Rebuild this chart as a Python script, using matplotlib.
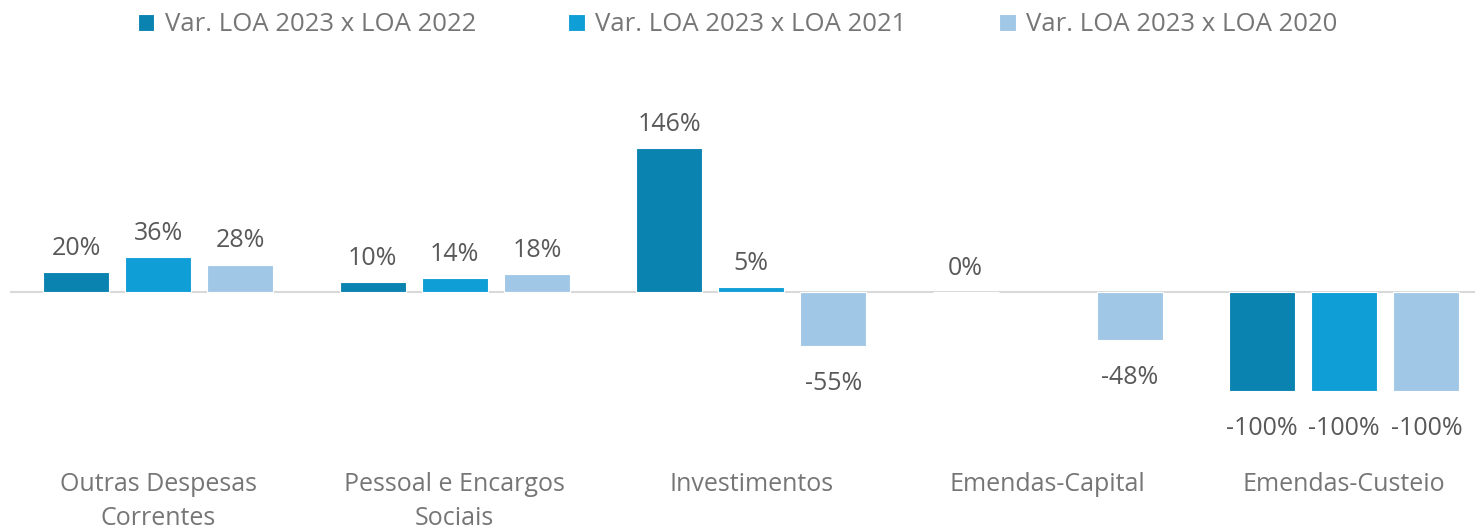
import numpy as np
import matplotlib.pyplot as plt

plt.rcParams['font.family'] = ['Open Sans', 'DejaVu Sans']

categorias = ['Outras Despesas\nCorrentes', 'Pessoal e Encargos\nSociais', 'Investimentos',
              'Emendas-Capital', 'Emendas-Custeio']
series = ['Var. LOA 2023 x LOA 2022', 'Var. LOA 2023 x LOA 2021', 'Var. LOA 2023 x LOA 2020']
var_2022 = [20, 10, 146, 0, -100]
var_2021 = [36, 14, 5, np.nan, -100]
var_2020 = [28, 18, -55, -48, -100]
cores = ['#0B83B0', '#0F9ED6', '#A1C7E6']

fig = plt.figure(figsize=(14.75, 5.32), dpi=100)
ax = fig.add_axes([10 / 1475, 1 - 462 / 532, 1465 / 1475, (462 - 70) / 532])

x = np.arange(len(categorias))
larg = 0.223
passo = 0.277
for i, (vals, cor, nome) in enumerate(zip([var_2022, var_2021, var_2020], cores, series)):
    pos = x + (i - 1) * passo
    ax.bar(pos, vals, larg, color=cor, edgecolor='white', linewidth=0.8, label=nome, zorder=3)
    for p, v in zip(pos, vals):
        if np.isnan(v):
            continue
        off = 8 if v >= 0 else -18
        ax.annotate(f'{v:.0f}%', (p, v), xytext=(0, off), textcoords='offset points',
                    ha='center', va='bottom' if v >= 0 else 'top', fontsize=18, color='#595959')

ax.axhline(0, color='#D9D9D9', linewidth=1.5, zorder=2)
ax.set_xlim(-0.5, -0.5 + 1465 / 296.5)
ax.set_ylim(-172, 225)
ax.set_xticks(x)
ax.set_xticklabels(categorias, fontsize=18, color='#767676', linespacing=1.5)
ax.tick_params(axis='x', length=0, pad=7)
ax.set_yticks([])
for s in ax.spines.values():
    s.set_visible(False)

fig.legend(loc='upper center', bbox_to_anchor=(0.5, 1.02), ncol=3, frameon=False, fontsize=18.5,
           labelcolor='#767676', handlelength=0.65, handleheight=0.65, handletextpad=0.4,
           columnspacing=3.6)

fig.savefig('out.png', dpi=100)
